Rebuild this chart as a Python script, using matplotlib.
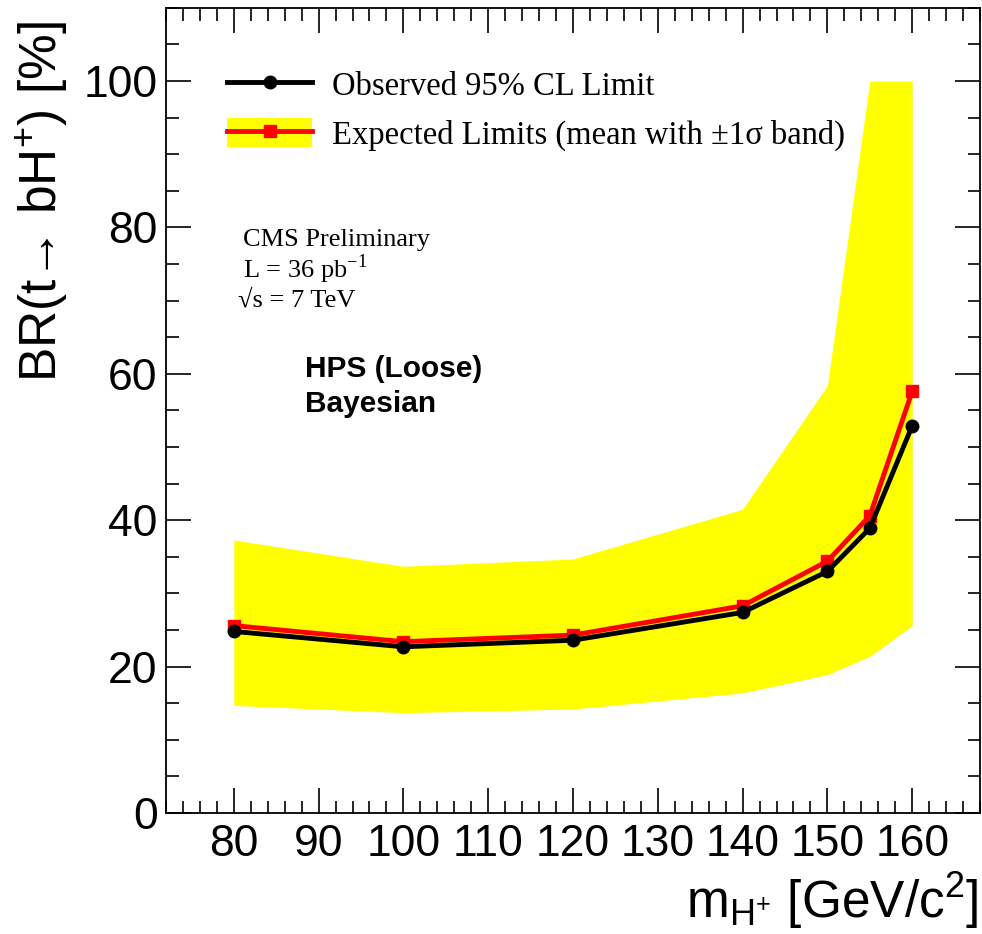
import matplotlib
matplotlib.use("Agg")
from matplotlib import pyplot as plt
from matplotlib.lines import Line2D
from matplotlib.patches import Patch
from matplotlib.ticker import MultipleLocator

# data
mass = [80, 100, 120, 140, 150, 155, 160]
observed = [24.8, 22.7, 23.6, 27.4, 33.0, 38.9, 52.9]
expected = [25.6, 23.4, 24.3, 28.3, 34.4, 40.6, 57.6]
band_lo = [14.7, 13.7, 14.2, 16.4, 18.9, 21.4, 25.6]
band_hi = [37.3, 33.7, 34.7, 41.5, 58.4, 100.0, 100.0]

plt.rcParams["mathtext.fontset"] = "custom"
plt.rcParams["mathtext.rm"] = "Liberation Sans"
plt.rcParams["mathtext.it"] = "Liberation Sans:italic"

fig = plt.figure(figsize=(9.82, 9.34), dpi=100)
ax = fig.add_axes([0.169, 0.1296, 0.829, 0.862])

ax.fill_between(mass, band_lo, band_hi, color="#ffff00", linewidth=0, zorder=1)
ax.plot(mass, expected, color="#ff0000", lw=3.5, marker="s", ms=9, zorder=2)
ax.plot(mass, observed, color="black", lw=3.5, marker="o", ms=9, zorder=3)

ax.set_xlim(72, 168)
ax.set_ylim(0, 110)
ax.xaxis.set_major_locator(MultipleLocator(10))
ax.xaxis.set_minor_locator(MultipleLocator(2))
ax.yaxis.set_major_locator(MultipleLocator(20))
ax.yaxis.set_minor_locator(MultipleLocator(5))
ax.tick_params(which="both", direction="in", top=True, right=True, width=1.2)
ax.tick_params(which="major", length=18, labelsize=32, labelfontfamily="Liberation Sans")
ax.tick_params(which="minor", length=9)
ax.tick_params(axis="x", pad=8)
ax.tick_params(axis="y", pad=6)
for s in ax.spines.values():
    s.set_linewidth(1.3)

ax.set_ylabel("BR(t\u2192 bH$^{+}$) [%]", fontsize=37, family="Liberation Sans")
ax.yaxis.set_label_coords(-0.118, 0.76)
ax.set_xlabel(r"m$_{\mathrm{H^{+}}}$ [GeV/c$^{2}$]", fontsize=37, family="Liberation Sans")
ax.xaxis.set_label_coords(0.998, -0.071)
ax.xaxis.label.set_ha("right")

h1 = Line2D([], [], color="black", lw=3.5, marker="o", ms=9)
h2 = (Patch(color="#ffff00", lw=0), Line2D([], [], color="#ff0000", lw=3.5, marker="s", ms=9))
ax.legend([h1, h2], ["Observed 95% CL Limit", "Expected Limits (mean with \u00b11\u03c3 band)"],
          loc="upper left", bbox_to_anchor=(0.039, 0.96), frameon=False,
          prop={"family": "Liberation Serif", "size": 23.5},
          handlelength=2.6, handleheight=1.0, labelspacing=0.48, handletextpad=0.6)

serif = {"family": "Liberation Serif", "size": 19, "va": "center"}
ax.text(0.0946, 0.712, "CMS Preliminary", transform=ax.transAxes, **serif)
ax.text(0.0946, 0.6745, "L = 36 pb$^{\\mathregular{-1}}$", transform=ax.transAxes, **serif)
ax.text(0.088, 0.637, "\u221as = 7 TeV", transform=ax.transAxes, **serif)
ax.text(0.171, 0.552, "HPS (Loose)", transform=ax.transAxes, family="Liberation Sans",
        weight="bold", size=21.5, va="center")
ax.text(0.171, 0.508, "Bayesian", transform=ax.transAxes, family="Liberation Sans",
        weight="bold", size=21.5, va="center")

fig.savefig("out.png", dpi=100)
